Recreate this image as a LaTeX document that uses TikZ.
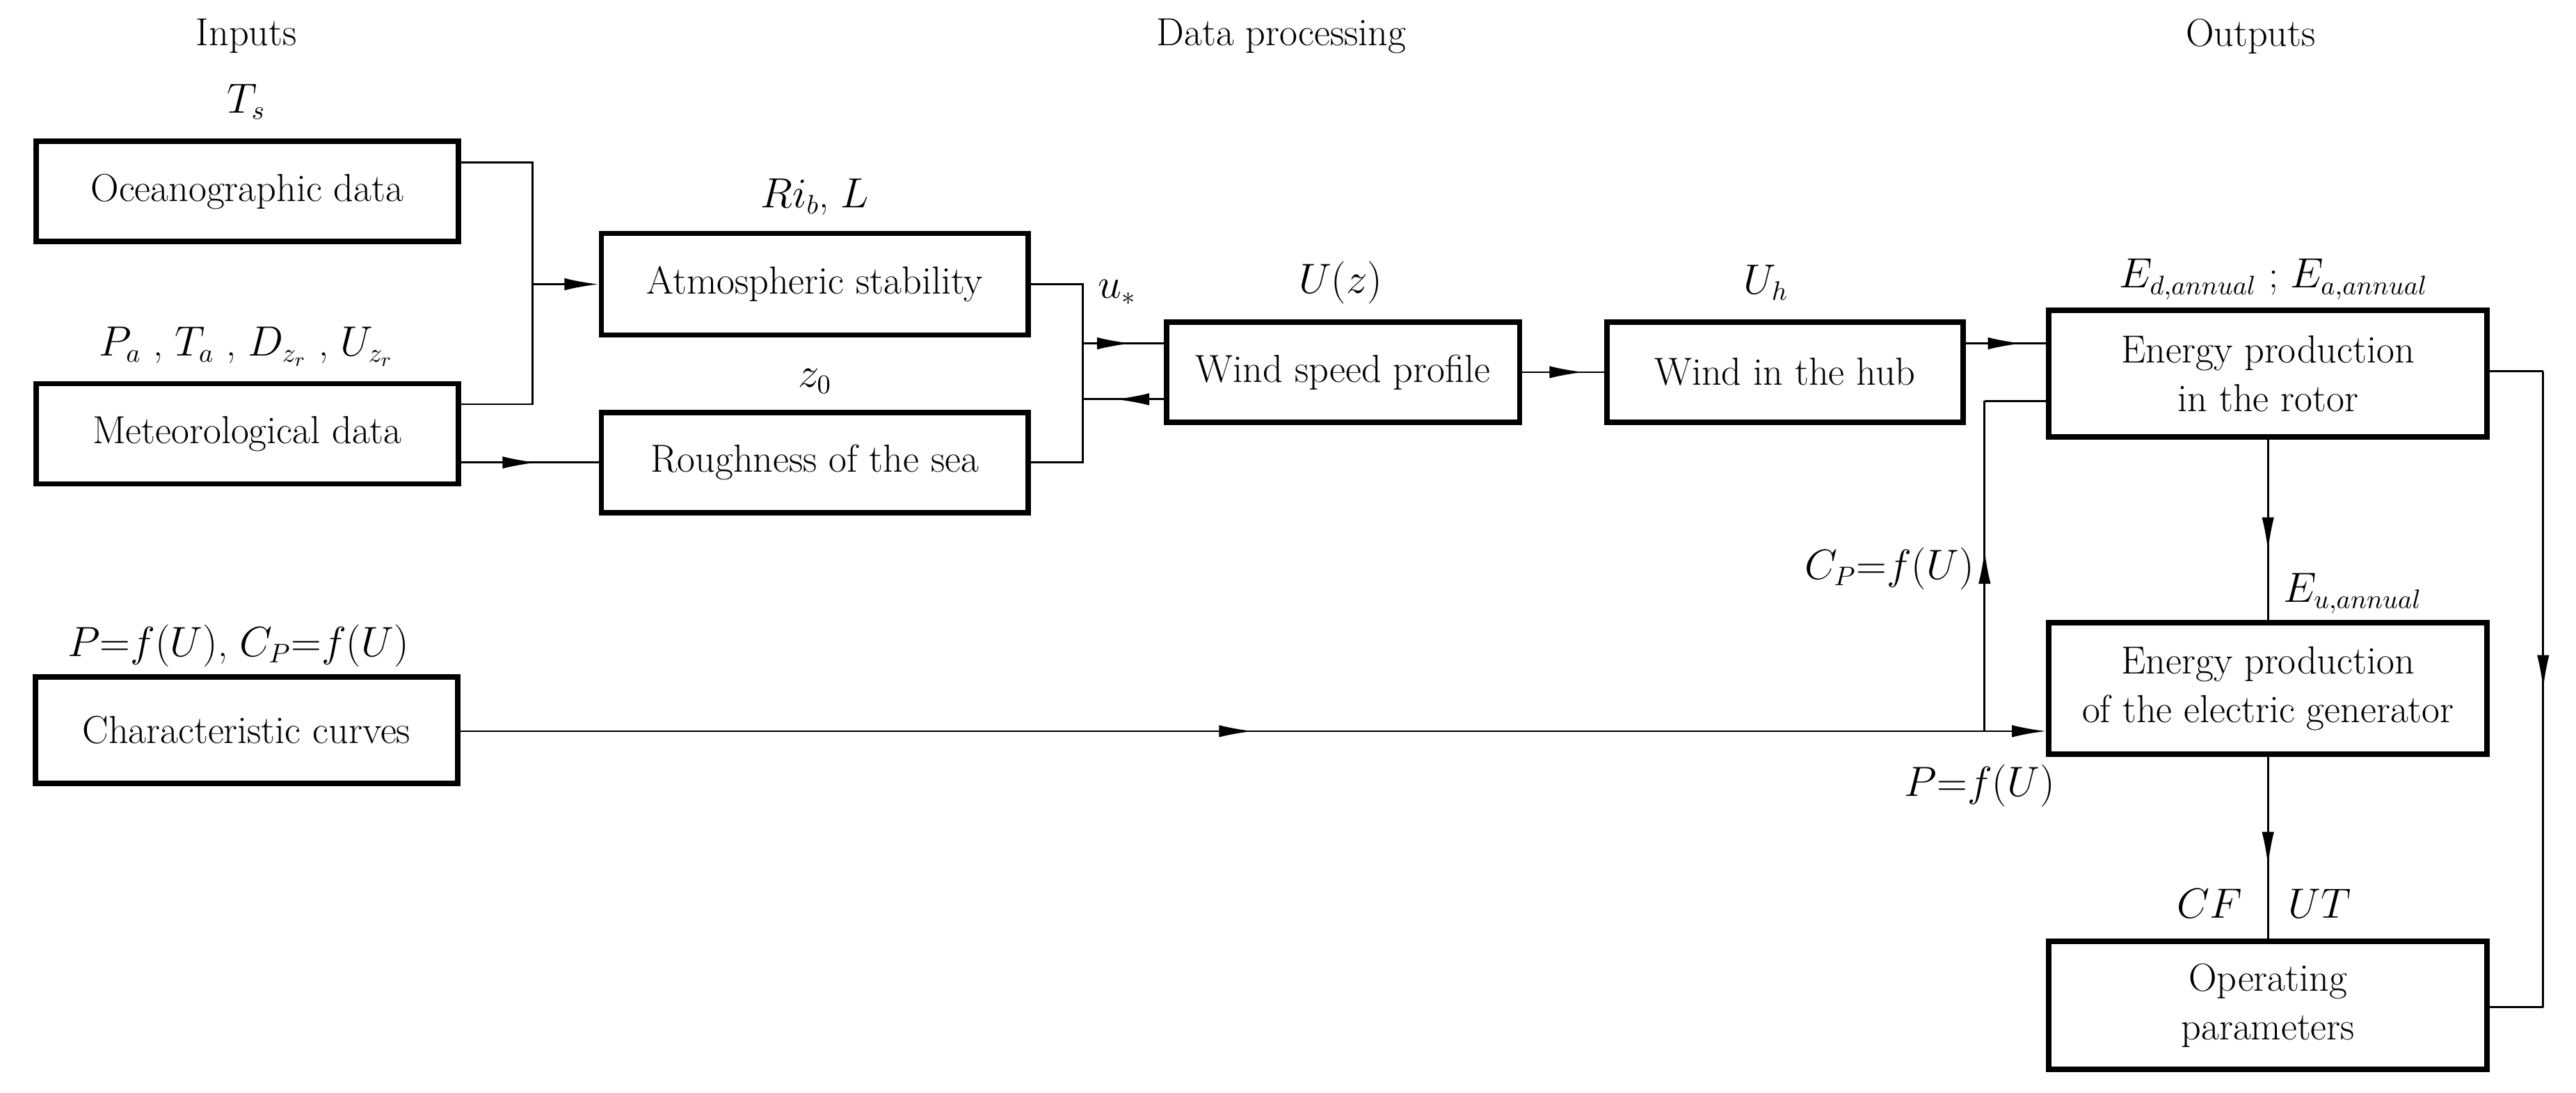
\documentclass[tikz,border=0pt]{standalone}
\usetikzlibrary{arrows.meta,decorations.markings}
\begin{document}
\begin{tikzpicture}[x=0.02362cm,y=-0.02362cm,
  box/.style={draw,line width=2.2pt,inner sep=1pt,align=center,font=\fontsize{16}{20}\selectfont},
  lab/.style={font=\fontsize{16}{20}\selectfont},
  ln/.style={line width=0.8pt},
  tip/.style={-{Latex[length=14pt,width=5pt]}},
  marr/.style={postaction={decorate},decoration={markings,mark=at position #1 with {\arrow{Latex[length=14pt,width=5pt]}}}}]
\useasboundingbox (0,0) rectangle (1568,665);
% headers
\node[lab] (h1) at (150,22) {Inputs};
\node[lab] (h2) at (780,22) {Data processing};
\node[lab] (h3) at (1370,22) {Outputs};
% boxes
\node[box,minimum width=6.07cm,minimum height=1.44cm] (oc) at (150.5,116.5) {Oceanographic data};
\node[box,minimum width=6.07cm,minimum height=1.44cm] (me) at (150.5,264) {Meteorological data};
\node[box,minimum width=6.07cm,minimum height=1.53cm] (ch) at (150,444.5) {Characteristic curves};
\node[box,minimum width=6.14cm,minimum height=1.46cm] (at) at (496,173) {Atmospheric stability};
\node[box,minimum width=6.14cm,minimum height=1.44cm] (ro) at (496,281.5) {Roughness of the sea};
\node[box,minimum width=5.08cm,minimum height=1.44cm] (wp) at (817.5,226.5) {Wind speed profile};
\node[box,minimum width=5.12cm,minimum height=1.44cm] (wh) at (1086.5,226.5) {Wind in the hub};
\node[box,minimum width=6.3cm,minimum height=1.82cm] (er) at (1380.5,227.5) {Energy production\\in the rotor};
\node[box,minimum width=6.3cm,minimum height=1.89cm] (eg) at (1380.5,419) {Energy production\\of the electric generator};
\node[box,minimum width=6.3cm,minimum height=1.84cm] (op) at (1380.5,612) {Operating\\parameters};
% coordinates
\coordinate (j1) at (324,99);
\coordinate (j2) at (324,246);
\coordinate (j3) at (659,173);
\coordinate (j4) at (659,281.5);
\coordinate (j5) at (1208,244);
\coordinate (j6) at (1208,445);
\coordinate (j7) at (1548,226);
\coordinate (j8) at (1548,613);
% connectors
\draw[ln] (oc.east |- j1) -- (j1) -- (j2) -- (me.east |- j2);
\draw[ln,tip] (j1 |- at.west) -- (at.west);
\draw[ln,marr=0.55] (me.east |- ro.west) -- (ro.west);
\draw[ln] (at.east) -- (j3) -- (j4) -- (ro.east);
\coordinate (k1) at (659,209);
\coordinate (k2) at (659,243);
\draw[ln,marr=0.6] (k1) -- (wp.west |- k1);
\draw[ln,marr=0.6] (wp.west |- k2) -- (k2);
\draw[ln,marr=0.75] (wp.east) -- (wh.west);
\draw[ln,marr=0.7] (wh.east |- 0,209) -- (er.west |- 0,209);
\draw[ln] (er.west |- j5) -- (j5);
\draw[ln,marr=0.55] (j6) -- (j5);
\draw[ln,marr=0.5,tip] (ch.east |- j6) -- (eg.west |- j6);
\draw[ln,marr=0.62] (er.south) -- (eg.north);
\draw[ln,marr=0.6] (eg.south) -- (op.north);
\draw[ln] (er.east |- j7) -- (j7);
\draw[ln,marr=0.5] (j7) -- (j8);
\draw[ln] (j8) -- (op.east |- j8);
% labels
\node[lab] (l1) at (150,62) {$T_s$};
\node[lab] (l2) at (496,120) {$Ri_b$, $L$};
\node[lab] (l3) at (150,211) {$P_a$ , $T_a$ , $D_{z_r}$ , $U_{z_r}$};
\node[lab] (l4) at (496,232) {$z_0$};
\node[lab] (l5) at (680,178) {$u_*$};
\node[lab] (l6) at (816,172) {$U(z)$};
\node[lab] (l7) at (1075,172) {$U_h$};
\node[lab] (l8) at (1384,170) {$E_{d,annual}$ ; $E_{a,annual}$};
\node[lab] (l9) at (1150,346) {$C_P{=}f(U)$};
\node[lab] (l10) at (1432,361) {$E_{u,annual}$};
\node[lab] (l11) at (145,393) {$P{=}f(U)$, $C_P{=}f(U)$};
\node[lab] (l12) at (1205,478) {$P{=}f(U)$};
\node[lab] (l13) at (1345,550) {$CF$};
\node[lab] (l14) at (1412,550) {$UT$};
\end{tikzpicture}
\end{document}
